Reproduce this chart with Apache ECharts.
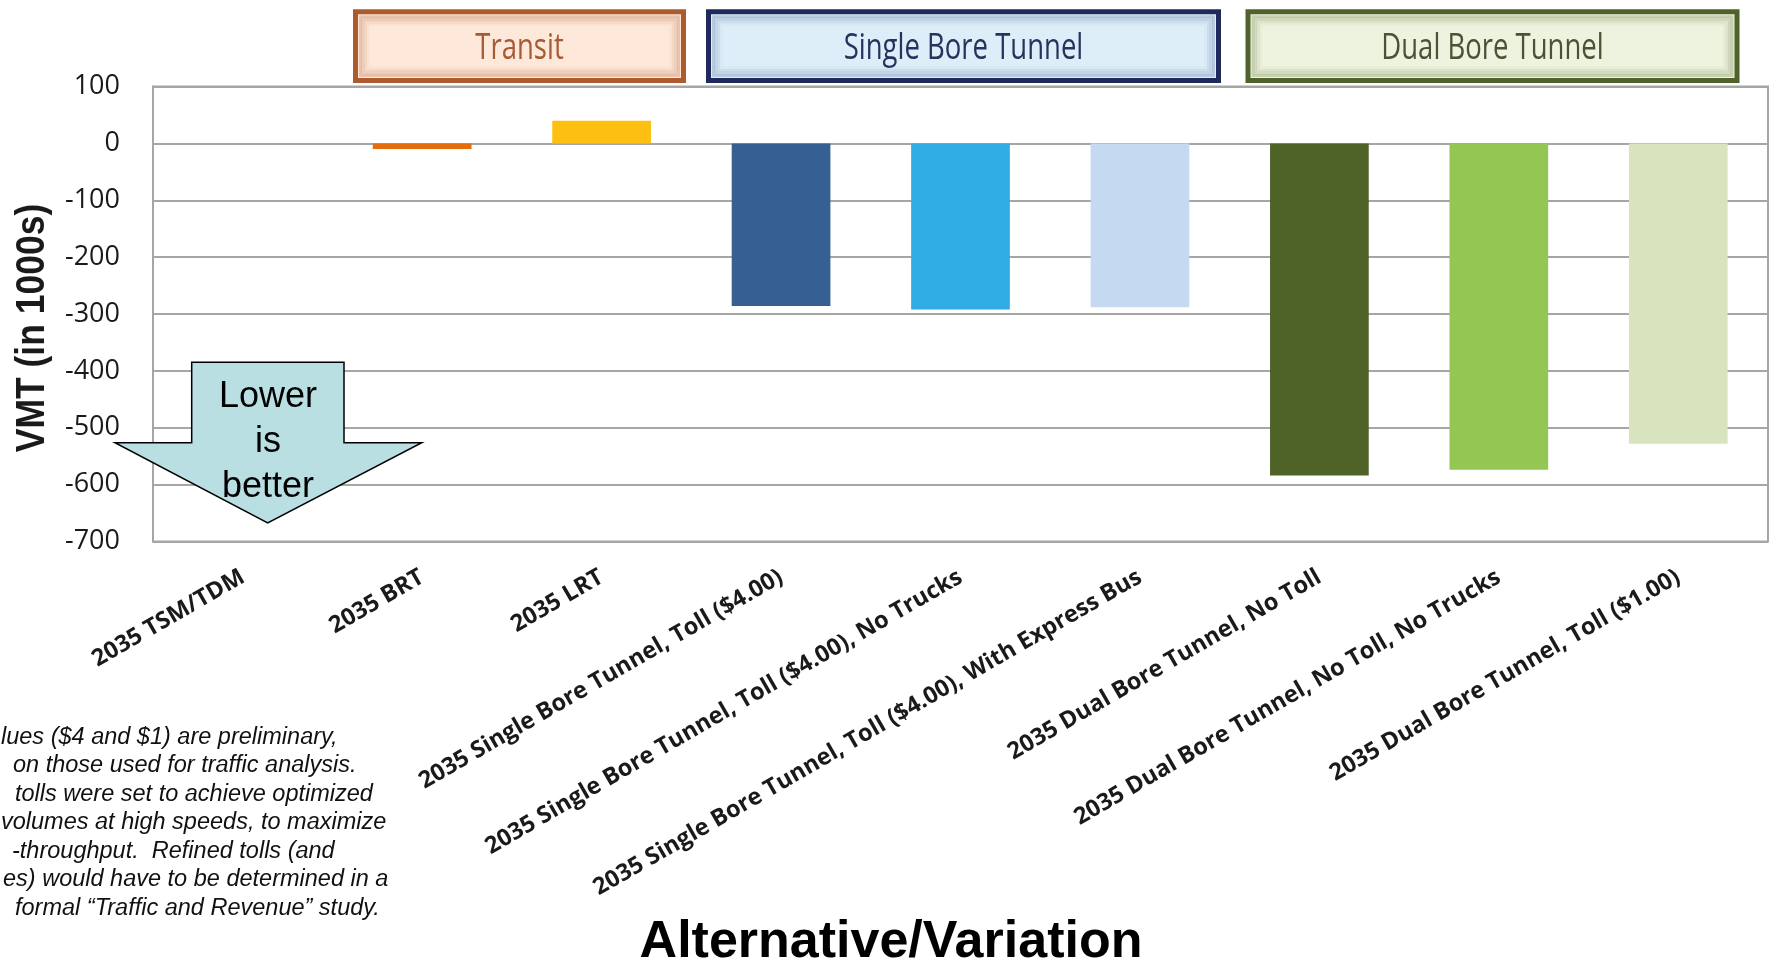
<!DOCTYPE html>
<html>
<head>
<meta charset="utf-8">
<script src="https://cdn.jsdelivr.net/npm/echarts@6/dist/echarts.min.js"></script>
<style>
html,body{margin:0;padding:0;background:#fff;}
#chart{width:1773px;height:964px;}
</style>
</head>
<body>
<div id="chart"></div>
<script>
var categories = [
  '2035 TSM/TDM',
  '2035 BRT',
  '2035 LRT',
  '2035 Single Bore Tunnel, Toll ($4.00)',
  '2035 Single Bore Tunnel, Toll ($4.00), No Trucks',
  '2035 Single Bore Tunnel, Toll ($4.00), With Express Bus',
  '2035 Dual Bore Tunnel, No Toll',
  '2035 Dual Bore Tunnel, No Toll, No Trucks',
  '2035 Dual Bore Tunnel, Toll ($1.00)'
];
var vmtValues = [-3, -10, 40, -286, -292, -288, -584, -574, -528];
var barColors = ['#a6a6a6', '#e46c0a', '#fdc010', '#366092', '#2eace3', '#c5d9f1', '#4f6228', '#93c653', '#d7e4bd'];
var yTicks = { min: -700, max: 100, interval: 100 };
var groupLabels = ['Transit', 'Single Bore Tunnel', 'Dual Bore Tunnel'];
var noteLines = [
  'lues ($4 and $1) are preliminary,',
  'on those used for traffic analysis.',
  'tolls were set to achieve optimized',
  'volumes at high speeds, to maximize',
  '-throughput.  Refined tolls (and',
  'es) would have to be determined in a',
  'formal \u201cTraffic and Revenue\u201d study.'
];
var arrowText = 'Lower\nis\nbetter';
var yAxisTitle = 'VMT (in 1000s)';
var xAxisTitle = 'Alternative/Variation';

var chart = echarts.init(document.getElementById('chart'), null, {renderer: 'canvas'});

function groupBox(x, y, w, h, border, fill, glow, textColor, label) {
  var els = [];
  els.push({type: 'rect', z: 100, shape: {x: x, y: y, width: w, height: h},
    style: {fill: fill, stroke: border, lineWidth: 5}});
  for (var i = 1; i <= 4; i++) {
    var d = 2.5 + i * 2.5;
    els.push({type: 'rect', z: 100, shape: {x: x + d, y: y + d, width: w - 2 * d, height: h - 2 * d},
      style: {fill: null, stroke: glow, lineWidth: 3, opacity: 0.5 - i * 0.11}});
  }
  els.push({type: 'text', z: 101, x: x + w / 2, y: y + h / 2 + 2.5, scaleY: 1.3,
    style: {text: label, fill: textColor, font: '27.5px "Open Sans"', align: 'center', verticalAlign: 'middle'}});
  return els;
}

var graphics = [];
graphics = graphics.concat(groupBox(355.5, 11.8, 328, 68.7, '#ad5a2c', '#fde8da', '#c98a68', '#a65a35', groupLabels[0]));
graphics = graphics.concat(groupBox(708.5, 11.8, 510, 68.7, '#1f2a5c', '#ddeef8', '#7f94b8', '#27335e', groupLabels[1]));
graphics = graphics.concat(groupBox(1248, 11.8, 489, 68.7, '#4e6229', '#eef3e0', '#8c9a6a', '#485433', groupLabels[2]));

// Lower is better arrow
graphics.push({type: 'polygon', z: 100,
  shape: {points: [[191.7, 362.3], [344, 362.3], [344, 442.7], [421.7, 442.7], [267.7, 523], [115, 442.7], [191.7, 442.7]]},
  style: {fill: '#b9dfe3', stroke: '#000', lineWidth: 1.5}});
graphics.push({type: 'text', z: 101, x: 268, y: 442,
  style: {text: arrowText, fill: '#000', font: '36px "Liberation Sans"', align: 'center', verticalAlign: 'middle', lineHeight: 45}});

// y axis title
graphics.push({type: 'text', z: 101, x: 33, y: 328, rotation: Math.PI / 2, scaleY: 1.12,
  style: {text: yAxisTitle, fill: '#1a1a1a', font: 'bold 35.5px "Liberation Sans"', align: 'center', verticalAlign: 'middle'}});

// x axis title
graphics.push({type: 'text', z: 101, x: 891, y: 943,
  style: {text: xAxisTitle, fill: '#000', font: 'bold 52px "Liberation Sans"', align: 'center', verticalAlign: 'middle'}});

// note text
var noteX = [1, 13, 15, 1, 12, 3, 15];
for (var i = 0; i < noteLines.length; i++) {
  graphics.push({type: 'text', z: 101, x: noteX[i], y: 737 + i * 28.5,
    style: {text: noteLines[i], fill: '#111', font: 'italic 23.5px "Liberation Sans"', align: 'left', verticalAlign: 'middle'}});
}

var option = {
  backgroundColor: '#fff',
  animation: false,
  grid: {left: 153, right: 5, top: 86.5, bottom: 422.5, show: true, borderColor: '#a6a6a6', borderWidth: 2, backgroundColor: 'transparent'},
  xAxis: {
    type: 'category',
    data: categories,
    axisLine: {show: false},
    axisTick: {show: false},
    axisLabel: {interval: 0, rotate: 30, margin: 34, color: '#1a1a1a', fontFamily: 'Open Sans', fontWeight: 'bold', fontSize: 23.5}
  },
  yAxis: {
    type: 'value',
    min: yTicks.min, max: yTicks.max, interval: yTicks.interval,
    axisLine: {show: true, lineStyle: {color: '#a6a6a6', width: 2}},
    axisTick: {show: false},
    splitLine: {show: true, lineStyle: {color: '#a6a6a6', width: 2}},
    axisLabel: {margin: 33, color: '#1a1a1a', fontFamily: 'Open Sans', fontSize: 27}
  },
  series: [{
    type: 'bar',
    data: vmtValues.map(function (v, i) { return {value: v, itemStyle: {color: barColors[i]}}; }),
    barCategoryGap: '45%'
  }],
  graphic: graphics
};
chart.setOption(option);
</script>
</body>
</html>
